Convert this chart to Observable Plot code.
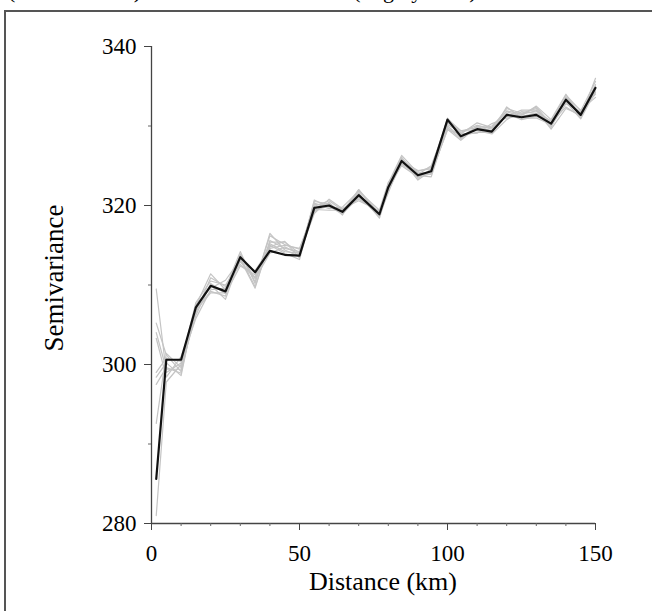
<!DOCTYPE html>
<html>
<head>
<meta charset="utf-8">
<script src="https://cdn.jsdelivr.net/npm/d3@7"></script>
<script src="https://cdn.jsdelivr.net/npm/@observablehq/plot@0.6"></script>
<style>
  html, body { margin: 0; padding: 0; background: #fff; overflow: hidden; }
  #page { position: relative; width: 652px; height: 611px; overflow: hidden; }
  #frame { position: absolute; left: 4px; top: 10px; width: 700px; height: 700px;
           border-left: 2px solid #555; border-top: 2px solid #555; }
  #caption { position: absolute; left: 8px; top: -20px; font: 22px/22px "Liberation Serif", serif;
             white-space: nowrap; color: #000; }
  #chart { position: absolute; left: 0; top: 0; }
</style>
</head>
<body>
<div id="page">
  <div id="caption">(the black line) and the simulated ones (in grey lines)</div>
  <div id="frame"></div>
  <div id="chart"></div>
</div>
<script>
// Lag distances (km)
const distance = [1.6, 5, 10, 15, 20, 25, 30, 35, 40, 45, 50, 55, 60, 64.5, 70, 77, 80, 84.5, 90, 94.5, 100, 104.5, 110, 115, 120, 125, 130, 135, 140, 145, 150];

// Empirical semivariance (black line)
const observed = [285.6, 300.6, 300.6, 307.2, 309.9, 309.2, 313.5, 311.6, 314.3, 313.8, 313.7, 319.7, 320.0, 319.2, 321.3, 318.9, 322.3, 325.6, 323.8, 324.3, 330.8, 328.7, 329.6, 329.3, 331.4, 331.1, 331.4, 330.3, 333.3, 331.4, 334.8];

// Simulated semivariances (grey lines)
const sim1 = [309.5, 299.0, 300.2, 307.8, 310.5, 310.0, 312.9, 311.0, 315.2, 314.2, 314.0, 320.3, 319.6, 319.8, 321.8, 319.4, 322.9, 325.2, 324.3, 324.8, 330.2, 329.2, 330.1, 329.6, 331.9, 331.5, 331.9, 330.6, 333.9, 331.9, 335.6];
const sim2 = [305.2, 301.2, 299.1, 307.0, 309.2, 308.6, 313.9, 310.4, 316.2, 315.1, 314.5, 319.2, 320.4, 318.8, 322.0, 318.6, 322.6, 326.1, 323.4, 324.6, 329.8, 328.4, 330.0, 329.8, 332.2, 331.6, 332.2, 330.0, 332.8, 331.8, 334.0];
const sim3 = [303.3, 298.4, 301.0, 306.5, 310.9, 309.8, 312.6, 310.9, 314.8, 315.5, 313.4, 320.7, 319.8, 319.6, 320.8, 319.2, 321.8, 325.9, 324.0, 323.9, 331.0, 329.0, 329.1, 330.3, 331.0, 331.3, 332.5, 330.8, 334.0, 331.0, 336.0];
const sim4 = [298.4, 300.2, 298.6, 307.6, 309.6, 310.6, 313.2, 309.6, 315.6, 314.6, 314.2, 319.9, 320.6, 319.4, 321.6, 318.4, 322.0, 325.4, 323.9, 325.0, 330.4, 329.4, 329.4, 329.0, 330.8, 331.8, 331.6, 329.8, 333.6, 332.0, 333.6];
const sim5 = [281.0, 297.8, 300.0, 306.8, 309.0, 309.0, 313.8, 310.8, 314.0, 314.8, 313.9, 319.4, 319.9, 318.9, 321.4, 319.1, 322.5, 325.0, 323.6, 324.0, 329.6, 328.2, 329.9, 329.4, 331.6, 330.8, 331.2, 330.4, 332.4, 331.2, 334.6];
const sim6 = [292.6, 301.4, 299.6, 306.2, 310.2, 308.9, 312.4, 311.3, 315.0, 314.0, 313.2, 320.1, 320.2, 319.0, 321.0, 318.8, 321.6, 325.8, 323.2, 324.4, 330.6, 328.8, 329.2, 329.2, 332.4, 331.0, 331.0, 330.2, 333.2, 331.6, 334.2];
const sim7 = [297.5, 299.6, 298.9, 307.4, 311.4, 309.4, 313.0, 311.8, 314.6, 315.0, 314.6, 319.5, 319.4, 319.4, 321.2, 318.6, 322.8, 326.3, 324.1, 324.1, 329.5, 329.0, 330.4, 329.8, 331.2, 332.0, 332.0, 329.6, 332.2, 331.4, 335.2];
const sim8 = [299.0, 300.8, 300.4, 305.8, 309.4, 309.6, 314.2, 310.2, 316.5, 314.4, 313.6, 320.5, 320.2, 319.2, 322.0, 319.0, 321.9, 325.2, 323.8, 323.6, 330.0, 328.6, 329.6, 330.0, 331.8, 331.2, 331.6, 330.6, 333.0, 330.9, 334.4];
const sim9 = [304.0, 299.4, 299.4, 307.0, 310.0, 308.2, 313.4, 309.8, 315.4, 315.4, 314.0, 319.0, 320.8, 319.6, 320.6, 319.3, 322.2, 325.6, 324.4, 324.6, 330.9, 329.4, 329.8, 329.4, 331.4, 331.4, 332.4, 330.2, 333.6, 331.5, 335.0];

// Tick labels
const xMajorTicks = [0, 50, 100, 150];
const xMinorTicks = [10, 20, 30, 40, 60, 70, 80, 90, 110, 120, 130, 140];
const yMajorTicks = [280, 300, 320, 340];
const yMinorTicks = [290, 310, 330];
const xTitle = "Distance (km)";
const yTitle = "Semivariance";

const sims = [sim1, sim2, sim3, sim4, sim5, sim6, sim7, sim8, sim9];
const simRows = sims.flatMap((s, k) => s.map((v, i) => ({run: k, d: distance[i], v})));
const obsRows = observed.map((v, i) => ({d: distance[i], v}));

const chart = Plot.plot({
  width: 652,
  height: 611,
  marginLeft: 151,
  marginRight: 57,
  marginTop: 46,
  marginBottom: 88,
  style: {fontFamily: "'Liberation Serif', 'Times New Roman', serif", fontSize: "23px", color: "#000", background: "transparent", overflow: "visible"},
  x: {domain: [0, 150]},
  y: {domain: [280, 340]},
  marks: [
    Plot.line(simRows, {x: "d", y: "v", z: "run", stroke: "#c4c4c4", strokeWidth: 1.2}),
    Plot.line(obsRows, {x: "d", y: "v", stroke: "#111", strokeWidth: 2.2}),
    Plot.ruleX([0], {y1: 280, y2: 340, stroke: "#444", strokeWidth: 1.3}),
    Plot.ruleY([280], {x1: 0, x2: 150, stroke: "#444", strokeWidth: 1.3}),
    Plot.axisX({ticks: xMajorTicks, tickSize: 7, tickPadding: 14, label: null, tickFormat: d => String(d), stroke: "#444", fill: "#000"}),
    Plot.axisX({ticks: xMinorTicks, tickSize: 3, text: null, label: null, stroke: "#666"}),
    Plot.axisY({ticks: yMajorTicks, tickSize: 7, tickPadding: 8, label: null, tickFormat: d => String(d), stroke: "#444", fill: "#000"}),
    Plot.axisY({ticks: yMinorTicks, tickSize: 3, text: null, label: null, stroke: "#666"})
  ]
});

const svg = d3.select(chart);
svg.append("text")
  .attr("transform", "translate(63,278) rotate(-90)")
  .attr("text-anchor", "middle")
  .attr("font-size", "27px")
  .attr("fill", "#000")
  .text(yTitle);
svg.append("text")
  .attr("x", 383)
  .attr("y", 590)
  .attr("text-anchor", "middle")
  .attr("font-size", "26px")
  .attr("fill", "#000")
  .text(xTitle);

document.getElementById("chart").appendChild(chart);
</script>
</body>
</html>
